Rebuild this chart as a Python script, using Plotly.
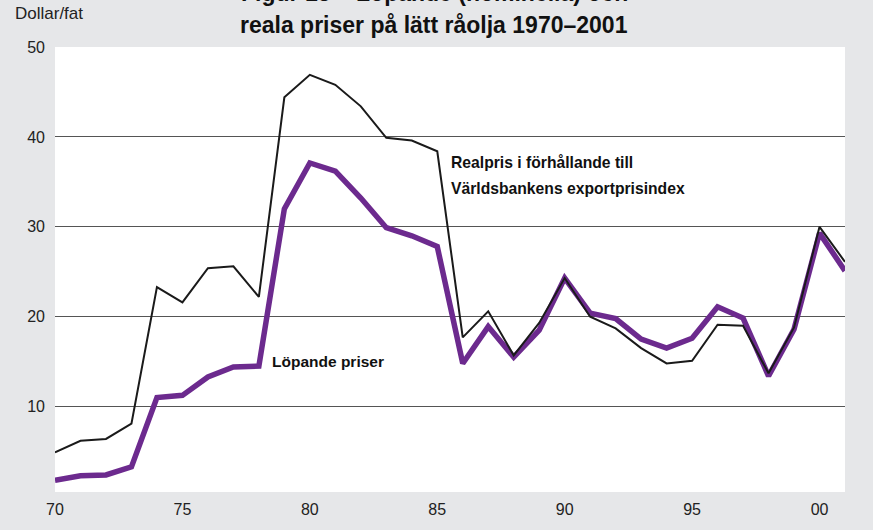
import plotly.graph_objects as go

years = list(range(1970, 2002))
real_price = [4.9, 6.2, 6.4, 8.1, 23.3, 21.6, 25.4, 25.6, 22.2, 44.4,
              46.9, 45.8, 43.4, 39.9, 39.6, 38.4, 17.7, 20.6, 15.7, 19.3,
              24.3, 20.0, 18.7, 16.5, 14.8, 15.1, 19.1, 19.0, 13.7, 18.8,
              30.0, 26.1]
nominal_price = [1.8, 2.3, 2.4, 3.3, 11.0, 11.25, 13.3, 14.4, 14.5, 32.0,
                 37.1, 36.2, 33.2, 29.9, 29.0, 27.8, 14.8, 18.9, 15.5, 18.5,
                 24.3, 20.4, 19.8, 17.5, 16.5, 17.6, 21.1, 19.85, 13.4, 18.6,
                 29.3, 25.1]
x_tickvals = [1970, 1975, 1980, 1985, 1990, 1995, 2000]
x_ticktext = ["70", "75", "80", "85", "90", "95", "00"]
y_tickvals = [10, 20, 30, 40, 50]

FONT = "Liberation Sans Narrow, Arial Narrow, Liberation Sans, Arial, sans-serif"

fig = go.Figure()
fig.add_trace(go.Scatter(x=years, y=nominal_price, mode="lines",
                         line=dict(color="#6c2a8e", width=5.5),
                         name="Löpande priser", hoverinfo="x+y"))
fig.add_trace(go.Scatter(x=years, y=real_price, mode="lines",
                         line=dict(color="#1a1a1a", width=2),
                         name="Realpris", hoverinfo="x+y"))

fig.update_layout(
    width=873, height=530,
    margin=dict(l=55, r=28, t=47, b=38),
    paper_bgcolor="#e6e7e9",
    plot_bgcolor="#ffffff",
    showlegend=False,
    font=dict(family=FONT, size=15, color="#222222"),
    xaxis=dict(range=[1970, 2001], tickvals=x_tickvals, ticktext=x_ticktext,
               showgrid=False, zeroline=False, showline=False, ticks="",
               tickfont=dict(size=16), ticklabelstandoff=6),
    yaxis=dict(range=[0.5, 50], tickvals=y_tickvals, showgrid=True,
               gridcolor="#555555", gridwidth=1, zeroline=False,
               showline=False, ticks="", tickfont=dict(size=16),
               ticklabelstandoff=9),
)

fig.add_annotation(xref="paper", yref="paper", x=-0.053, y=1.0757,
                   xanchor="left", yanchor="middle", showarrow=False,
                   text="Dollar/fat", font=dict(size=17, color="#222222"))
fig.add_annotation(xref="paper", yref="paper", x=0.48, y=1.121,
                   xanchor="center", yanchor="middle", showarrow=False,
                   text="<b>Figur 13 – Löpande (nominella) och</b>",
                   font=dict(size=23, color="#111111"))
fig.add_annotation(xref="paper", yref="paper", x=0.48, y=1.049,
                   xanchor="center", yanchor="middle", showarrow=False,
                   text="<b>reala priser på lätt råolja 1970–2001</b>",
                   font=dict(size=23, color="#111111"))
fig.add_annotation(x=1985.45, y=37.1, xref="x", yref="y",
                   xanchor="left", yanchor="middle", showarrow=False,
                   text="<b>Realpris i förhållande till</b>",
                   font=dict(size=15.7, color="#111111"))
fig.add_annotation(x=1985.45, y=34.3, xref="x", yref="y",
                   xanchor="left", yanchor="middle", showarrow=False,
                   text="<b>Världsbankens exportprisindex</b>",
                   font=dict(size=15.7, color="#111111"))
fig.add_annotation(x=1978.45, y=15.0, xref="x", yref="y",
                   xanchor="left", yanchor="middle", showarrow=False,
                   text="<b>Löpande priser</b>",
                   font=dict(size=15.5, color="#111111"))

fig.write_html("out.html", config={"displayModeBar": False},
               post_script="document.body.style.margin='0';document.body.style.padding='0';document.body.style.background='#e6e7e9';")
